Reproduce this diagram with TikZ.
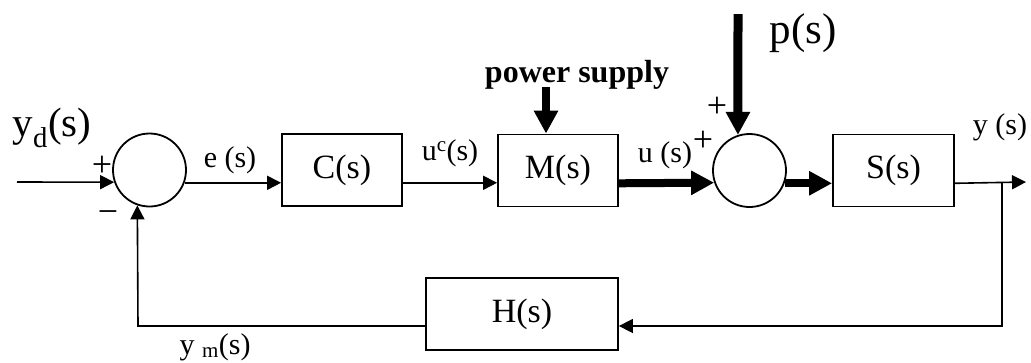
\documentclass[tikz,border=0pt]{standalone}
\usepackage{fontspec}
\setmainfont{Liberation Serif}
\usetikzlibrary{arrows.meta}
\tikzset{
  blk/.style={draw, line width=1.8pt, rectangle, minimum width=120pt, minimum height=72pt, inner sep=0pt, font=\fontsize{34}{40}\selectfont},
  sumc/.style={draw, line width=1.8pt, circle, minimum size=73pt, inner sep=0pt},
  sig/.style={line width=1.6pt, -{Triangle[length=14pt,width=14pt]}},
  thk/.style={line width=8pt, -{Triangle[length=23pt,width=23pt]}},
  lbl/.style={inner sep=0pt, font=\fontsize{30}{34}\selectfont},
  big/.style={inner sep=0pt, font=\fontsize{41}{46}\selectfont},
  sgn/.style={inner sep=0pt, font=\fontsize{36}{40}\selectfont},
}
\begin{document}
\begin{tikzpicture}[x=1pt,y=-1pt]
\useasboundingbox (0,0) rectangle (1031,362);
% blocks
\node[sumc] (sum1) at (149.5,170) {};
\node[sumc] (sum2) at (749.5,170.5) {};
\node[blk] (C) at (342,170) {C(s)};
\node[blk] (M) at (558,170.5) {M(s)};
\node[blk, minimum width=121pt] (S) at (893.5,170.5) {S(s)};
\node[blk, minimum width=192pt] (H) at (522,314) {H(s)};
% coordinates
\coordinate (in) at (17,182);
\coordinate (out) at (1026,182);
\coordinate (br) at (1002,182);
\coordinate (fb) at (1002,326);
\coordinate (fbl) at (138,326);
\coordinate (psa) at (546,87);
\coordinate (pa) at (738,14);
% connectors
\draw[sig] (in) -- (sum1.199.2);
\draw[sig] (sum1.340.8) -- (sum1.340.8 -| C.west);
\draw[sig] (C.east |- sum1.340.8) -- (M.west |- sum1.340.8);
\draw[thk] (M.east |- sum2.340.8) -- (sum2.199.2);
\draw[thk] (sum2.340.8) -- (sum2.340.8 -| S.west);
\draw[sig] (S.east |- sum2.340.8) -- (out);
\draw[sig] (br) -- (fb) -- (fb -| H.east);
\draw[sig] (fb -| H.west) -- (fbl) -- (sum1.251.6);
\draw[thk] (psa) -- (psa |- M.north);
\draw[line width=9pt, -{Triangle[length=23pt,width=23pt]}] (pa) -- (sum2.108.4);
% labels
\node[sgn] (p1) at (102,166) {+};
\node[sgn] (m1) at (108,217) {−};
\node[lbl] (le) at (230,160) {e (s)};
\node[lbl] (luc) at (450,153) {u\textsuperscript{c}(s)};
\node[lbl] (lu) at (665,155) {u (s)};
\node[sgn] (p2) at (703,141) {+};
\node[sgn] (p3) at (717,107) {+};
\node[lbl] (ly) at (1000,127) {y (s)};
\node[lbl] (lym) at (215,347) {y \textsubscript{m}(s)};
\node[big] (lyd) at (52,128) {y\textsubscript{d}(s)};
\node[big, font=\fontsize{43}{48}\selectfont] (lp) at (803,33) {p(s)};
\node[inner sep=0pt, font=\fontsize{32}{36}\selectfont\bfseries] (lps) at (577,75) {power supply};
\end{tikzpicture}
\end{document}
